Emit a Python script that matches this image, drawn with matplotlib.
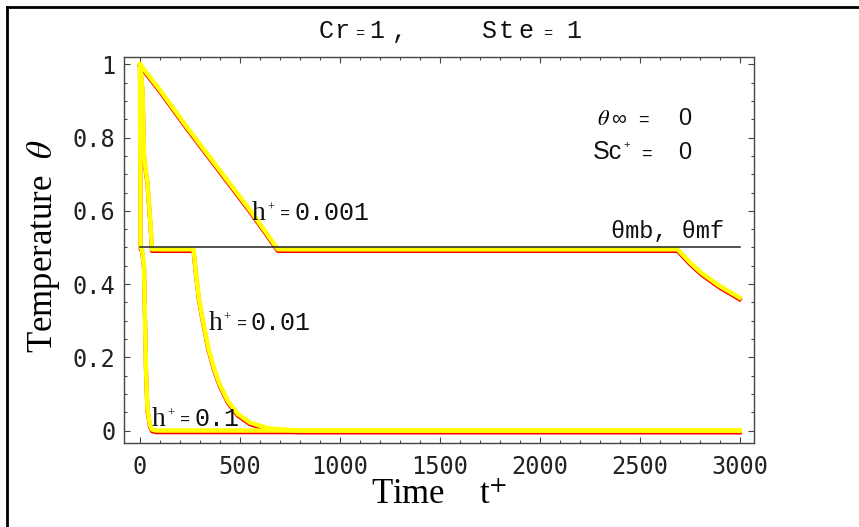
import matplotlib
matplotlib.use("Agg")
import matplotlib.pyplot as plt
import matplotlib.transforms as mtransforms
from matplotlib.lines import Line2D
from matplotlib.ticker import MultipleLocator

plt.rcParams["mathtext.fontset"] = "stix"

# curves (time t+, temperature theta)
t_h0001 = [0, 100, 240, 400, 560, 690, 2690, 2750, 2810, 2900, 3000]
th_h0001 = [1.0, 0.93, 0.825, 0.71, 0.595, 0.495, 0.495, 0.46, 0.43, 0.395, 0.363]

t_h001 = [0, 13, 20, 37, 53, 60, 268, 280, 295, 315, 340, 370, 400, 440, 490, 550, 640, 790, 3000]
th_h001 = [1.0, 0.93, 0.75, 0.68, 0.56, 0.495, 0.495, 0.43, 0.36, 0.30, 0.23, 0.17, 0.125, 0.08, 0.045, 0.022, 0.006, 0.0, 0.0]

t_h01 = [0, 3, 10, 20, 30, 37, 50, 60, 80, 3000]
th_h01 = [1.0, 0.5, 0.495, 0.45, 0.17, 0.06, 0.015, 0.003, 0.0, 0.0]

t_melt = [0, 3000]
th_melt = [0.5, 0.5]

x_ticks = [0, 500, 1000, 1500, 2000, 2500, 3000]
y_ticks = [0, 0.2, 0.4, 0.6, 0.8, 1.0]
y_labels = ["0", "0.2", "0.4", "0.6", "0.8", "1"]

W, H = 859, 527
fig = plt.figure(figsize=(W / 100, H / 100), dpi=100)
ax = fig.add_axes([124 / W, 1 - 443 / H, (754 - 124) / W, (443 - 56.7) / H])

# red curve sits a hair below the yellow one
red_tr = ax.transData + mtransforms.ScaledTranslation(0, -1.2 / 72, fig.dpi_scale_trans)
for t, th in [(t_h0001, th_h0001), (t_h001, th_h001), (t_h01, th_h01)]:
    ax.plot(t, th, color="#ff0000", lw=3.0, transform=red_tr, zorder=2)
    ax.plot(t, th, color="#ffff00", lw=3.2, zorder=3)
ax.plot(t_melt, th_melt, color="#222222", lw=1.1, zorder=4)

ax.set_xlim(-80, 3072)
ax.set_ylim(-0.034, 1.021)
ax.set_xticks(x_ticks)
ax.set_yticks(y_ticks, y_labels)
ax.xaxis.set_minor_locator(MultipleLocator(100))
ax.yaxis.set_minor_locator(MultipleLocator(0.05))
ax.tick_params(which="both", direction="in", top=True, right=True,
               color="#444444", width=0.8)
ax.tick_params(which="major", length=4)
ax.tick_params(which="minor", length=2.2)
ax.tick_params(axis="y", pad=6)
ax.tick_params(axis="x", pad=9)
for lab in ax.get_xticklabels() + ax.get_yticklabels():
    lab.set_family("DejaVu Sans Mono")
    lab.set_fontsize(17)
    lab.set_color("#222222")
for sp in ax.spines.values():
    sp.set_color("#444444")
    sp.set_linewidth(1.0)

serif = dict(family="Liberation Serif", color="#111111")
mono = dict(family="Liberation Mono", color="#111111")
sans = dict(family="Liberation Sans", color="#111111")


def label(x, y, parts):
    for s, dx, dy, kw in parts:
        ax.annotate(s, (x, y), xytext=(dx, dy), textcoords="offset points",
                    ha="left", va="baseline", **kw)


def h_label(x, y, num):
    label(x, y, [("h", 0, 0, dict(size=20, **serif)),
                 ("+", 11, 6.5, dict(size=9, **serif)),
                 ("=", 20.5, 0.5, dict(size=12, **mono)),
                 (num, 30.5, 0, dict(size=18, **mono))])


h_label(560, 0.575, "0.001")
h_label(343, 0.275, "0.01")
h_label(59, 0.013, "0.1")

label(2358, 0.526, [("\u03b8mb, \u03b8mf", 0, 0, dict(size=17, **mono))])

label(2288, 0.835, [("$\\theta$", 0, 0, dict(size=16)),
                    ("\u221e", 10, 0, dict(size=15, **sans)),
                    ("=", 29.5, 0, dict(size=13, **sans)),
                    ("0", 58, 0, dict(size=17, **sans))])
label(2268, 0.742, [("Sc", 0, 0, dict(size=18, **sans)),
                    ("+", 21.6, 8, dict(size=8, **sans)),
                    ("=", 34.5, 0, dict(size=13, **sans)),
                    ("0", 61, 0, dict(size=17, **sans))])

# title, written piece by piece like the original
title_parts = [("C", 319, 18), ("r", 334, 18), ("=", 355, 11), ("1", 369, 18),
               (",", 392, 18), ("S", 481, 18), ("t", 499, 18), ("e", 518, 18),
               ("=", 543, 11), ("1", 566, 18)]
for s, px, size in title_parts:
    fig.text(px / W, 1 - 38 / H, s, ha="left", va="baseline", size=size, **mono)

ax.set_ylabel("Temperature  $\\theta$", fontsize=25, family="Liberation Serif",
              labelpad=8)
ax.yaxis.label.set_position((0, 0.51))
ax.set_xlabel("Time    t$^{+}$", fontsize=25, family="Liberation Serif",
              labelpad=0)

# outer frame edges visible in the original
fig.add_artist(Line2D([7 / W, 1], [1 - 7 / H, 1 - 7 / H], color="black", lw=2))
fig.add_artist(Line2D([7 / W, 7 / W], [0, 1 - 7 / H], color="black", lw=2))

fig.savefig("out.png", dpi=100)
